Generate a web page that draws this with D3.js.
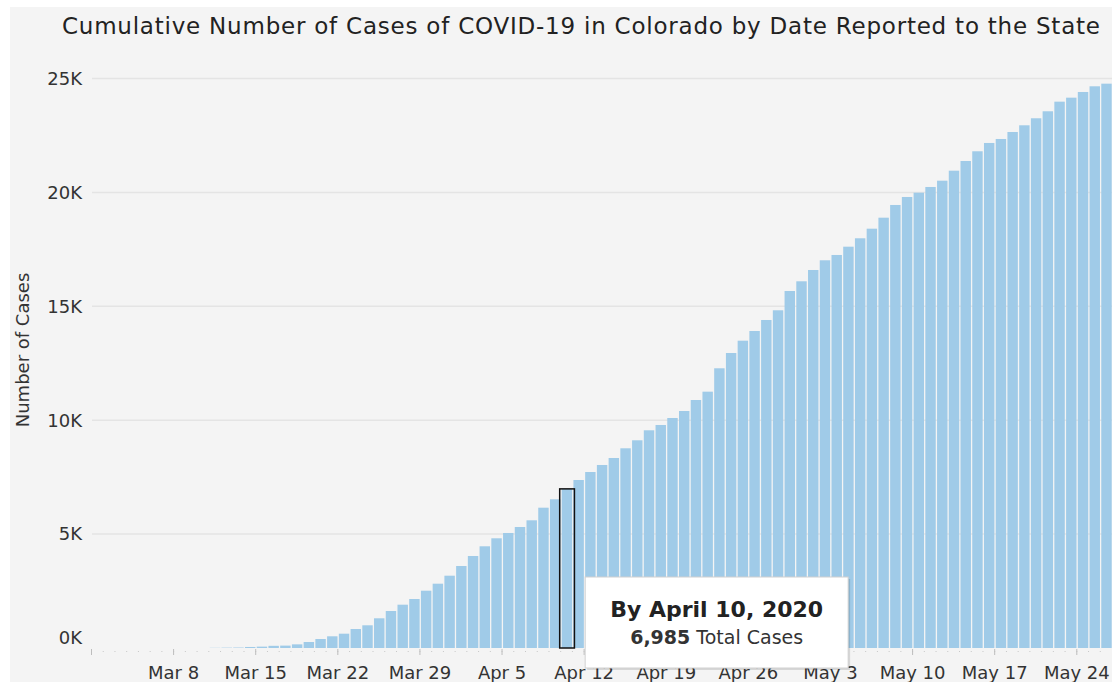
<!DOCTYPE html>
<html lang="en">
<head>
<meta charset="utf-8">
<title>Colorado COVID-19 cumulative cases</title>
<script src="https://d3js.org/d3.v7.min.js"></script>
<style>
  body { margin: 0; background: #ffffff; }
  svg { display: block; font-family: "DejaVu Sans", sans-serif; }
  .title { font-size: 23px; fill: #222; }
  .ylab, .tick-lab { font-size: 18px; fill: #333; }
  .tip-head { font-size: 22px; font-weight: bold; fill: #222; }
  .tip-line { font-size: 19px; fill: #333; }
</style>
</head>
<body>
<svg width="1112" height="682"></svg>
<script>
// data
const firstDay = new Date(Date.UTC(2020, 2, 11));   // Mar 11
const cases = [
  8, 15, 20, 45, 60, 95, 105, 160, 263, 395, 514, 628, 834, 997, 1304, 1624, 1901, 2151, 2515, 2823, 3174, // Mar 11-31
  3600, 4039, 4465, 4816, 5049, 5312, 5606, 6159, 6528, 6985, 7375, 7726, 8034, 8341, 8767,
  9118, 9557, 9790, 10097, 10404, 10887, 11252, 12279, 12950, 13490, 13916, 14399, 14825, 15672, 16098, // Apr
  16594, 17020, 17253, 17617, 17986, 18407, 18890, 19448, 19799, 19988, 20238, 20514, 20953,
  21379, 21805, 22170, 22345, 22652, 22946, 23254, 23561, 23983, 24158, 24408, 24658, 24773 // May 1-26
];
const dates = cases.map((c, i) => d3.utcDay.offset(firstDay, i));
const yTicks = [0, 5000, 10000, 15000, 20000, 25000];
const highlight = { date: new Date(Date.UTC(2020, 3, 10)), label: "By April 10, 2020", value: "6,985", rest: " Total Cases" };

const data = dates.map((d, i) => ({ date: d, value: cases[i] }));

const svg = d3.select("svg");

// grey panel
svg.append("rect").attr("x", 10).attr("y", 7).attr("width", 1102).attr("height", 675).attr("fill", "#f4f4f4");

const x = d3.scaleUtc()
  .domain([new Date(Date.UTC(2020, 2, 1)), new Date(Date.UTC(2020, 4, 27))])
  .range([91.5, 1112]);
const y = d3.scaleLinear().domain([0, 25000]).range([648, 78.5]);
const step = x(d3.utcDay.offset(firstDay, 1)) - x(firstDay);

// gridlines
svg.append("g").selectAll("line")
  .data(yTicks.filter(t => t > 0))
  .join("line")
  .attr("x1", 92).attr("x2", 1112)
  .attr("y1", d => y(d)).attr("y2", d => y(d))
  .attr("stroke", "#e4e4e4").attr("stroke-width", 1.5);

// y tick labels
svg.append("g").selectAll("text")
  .data(yTicks)
  .join("text")
  .attr("class", "tick-lab")
  .attr("x", 82)
  .attr("y", d => y(d))
  .attr("dy", d => d === 0 ? "-0.25em" : "0.35em")
  .attr("text-anchor", "end")
  .text(d => d3.format("d")(d / 1000) + "K");

// y axis title
svg.append("text")
  .attr("class", "ylab")
  .attr("transform", "translate(29,350) rotate(-90)")
  .attr("text-anchor", "middle")
  .text("Number of Cases");

// bars
svg.append("g").selectAll("rect")
  .data(data)
  .join("rect")
  .attr("x", d => x(d.date) + 1)
  .attr("width", step - 1.3)
  .attr("y", d => y(d.value))
  .attr("height", d => y(0) - y(d.value))
  .attr("fill", "#a0cbe8");

// x axis: daily minor dots, weekly ticks
const days = d3.utcDay.range(x.domain()[0], x.domain()[1]);
svg.append("g").selectAll("rect")
  .data(days)
  .join("rect")
  .attr("x", d => x(d) - 0.5)
  .attr("y", 651)
  .attr("width", 1)
  .attr("height", 1)
  .attr("fill", "#c8c8c8");

const weeks = d3.utcSunday.range(x.domain()[0], x.domain()[1]);
svg.append("g").selectAll("line")
  .data(weeks)
  .join("line")
  .attr("x1", d => x(d)).attr("x2", d => x(d))
  .attr("y1", 649).attr("y2", 655)
  .attr("stroke", "#bdbdbd").attr("stroke-width", 1);

svg.append("g").selectAll("text")
  .data(weeks.slice(1))
  .join("text")
  .attr("class", "tick-lab")
  .attr("x", d => x(d))
  .attr("y", 679)
  .attr("text-anchor", "middle")
  .text(d3.utcFormat("%b %-d"));

// highlighted bar outline
const hv = data.find(d => +d.date === +highlight.date);
svg.append("rect")
  .attr("x", x(hv.date) - 1)
  .attr("y", y(hv.value))
  .attr("width", step + 3)
  .attr("height", y(0) - y(hv.value))
  .attr("fill", "none")
  .attr("stroke", "#111")
  .attr("stroke-width", 1.5);

// tooltip
const tx = x(d3.utcDay.offset(highlight.date, 2)) + 1;
const ty = 577, tw = 263, th = 91;
svg.append("rect").attr("x", tx + 2).attr("y", ty + 2).attr("width", tw).attr("height", th)
  .attr("fill", "rgba(0,0,0,0.12)");
svg.append("rect").attr("x", tx).attr("y", ty).attr("width", tw).attr("height", th)
  .attr("fill", "#ffffff").attr("stroke", "#d0d0d0").attr("stroke-width", 1);
svg.append("text").attr("class", "tip-head")
  .attr("x", tx + tw / 2).attr("y", ty + 40)
  .attr("text-anchor", "middle")
  .text(highlight.label);
const line2 = svg.append("text").attr("class", "tip-line")
  .attr("x", tx + tw / 2).attr("y", ty + 67)
  .attr("text-anchor", "middle");
line2.append("tspan").attr("font-weight", "bold").text(highlight.value);
line2.append("tspan").text(highlight.rest);

// title
svg.append("text")
  .attr("class", "title")
  .attr("x", 581).attr("y", 34)
  .attr("text-anchor", "middle")
  .attr("textLength", 1038)
  .attr("lengthAdjust", "spacing")
  .text("Cumulative Number of Cases of COVID-19 in Colorado by Date Reported to the State");
</script>
</body>
</html>
